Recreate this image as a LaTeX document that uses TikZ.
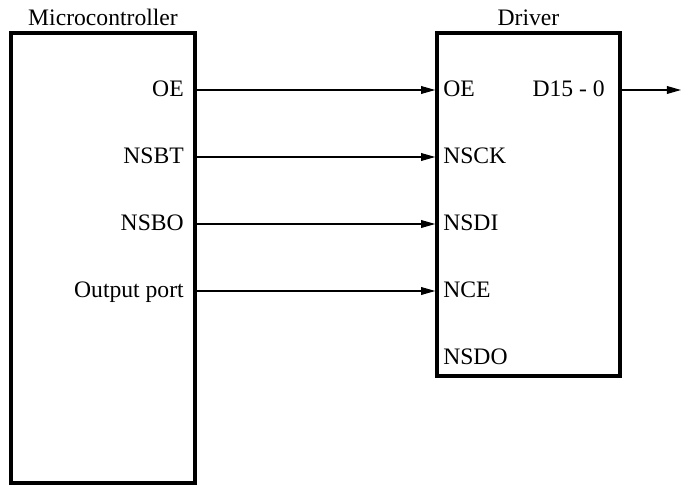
\documentclass[tikz,border=0pt]{standalone}
\usepackage{fontspec}
\setmainfont{Liberation Serif}
\newfontfamily\lblfont{Liberation Serif}
\usetikzlibrary{arrows.meta}

\begin{document}
\begin{tikzpicture}[%
      x=0.025cm, y=-0.025cm,
      box/.style={draw, line width=2.5pt, inner sep=0pt},
      lbl/.style={inner sep=0pt, font=\lblfont\fontsize{16.8}{20}\selectfont},
      sig/.style={line width=0.8pt, -{Triangle[length=10pt,width=5.5pt]}},
      ]
      \useasboundingbox (0,0) rectangle (681,485);

      % blocks
      \node [box, minimum width=4.6cm, minimum height=11.25cm] (mcu) at (103,258) {};
      \node [box, minimum width=4.575cm, minimum height=8.575cm] (drv) at (528.5,204.5) {};
      \node [lbl, anchor=base] (mcuT) at (mcu.north |- 0,26) {Microcontroller};
      \node [lbl, anchor=base] (drvT) at (drv.north |- 0,26) {Driver};

      % signals
      \foreach \y/\a/\b [count=\i] in {90/OE/OE, 157/NSBT/NSCK, 224/NSBO/NSDI, 291/Output port/NCE} {
        \node [lbl, anchor=base east] (m\i) at (184,\y+6.5) {\a};
        \node [lbl, anchor=base west] (d\i) at (443,\y+6.5) {\b};
        \draw [sig] (mcu.east |- 0,\y) -- (drv.west |- 0,\y);
      }
      \node [lbl, anchor=base west] (d5) at (443,364.5) {NSDO};

      % output
      \node [lbl, anchor=base east] (dout) at (605,96.5) {D15 - 0};
      \coordinate (out) at (681,90);
      \draw [sig] (drv.east |- out) -- (out);
\end{tikzpicture}
\end{document}
